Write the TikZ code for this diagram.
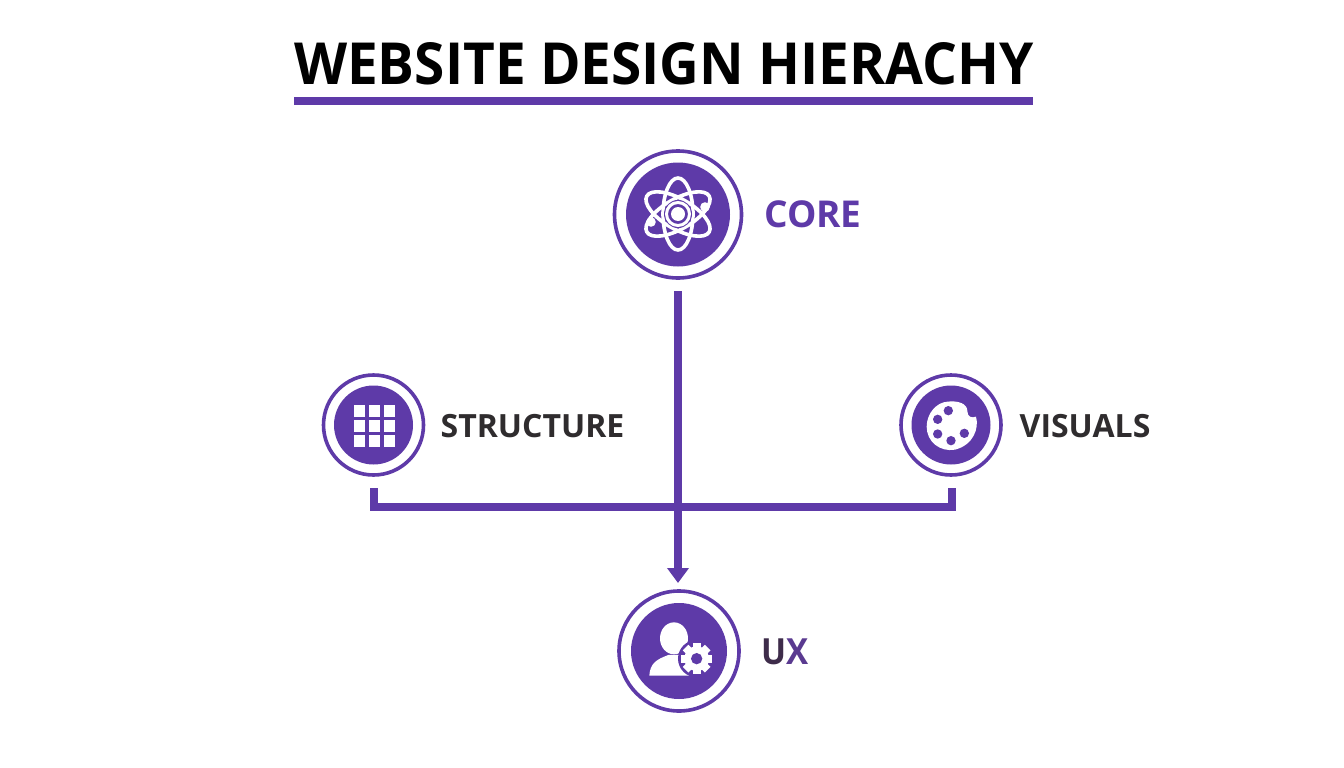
\documentclass[tikz,border=0pt]{standalone}
\usepackage{fontspec}
\setmainfont{Open Sans}
\usetikzlibrary{arrows.meta}
\definecolor{pur}{HTML}{5E3AA8}
\definecolor{ink}{HTML}{2F2C2E}
\tikzset{
  ring/.style={circle,draw=pur,line width=3.6pt,fill=white,inner sep=0pt,outer sep=0pt},
  disc/.style={circle,fill=pur,inner sep=0pt,outer sep=0pt},
  conn/.style={draw=pur,line width=8pt,line join=miter},
  lab/.style={anchor=base west,inner sep=0pt,font=\bfseries\fontsize{37}{37}\selectfont},
  iconline/.style={draw=white,line width=3.6pt}
}
\begin{document}
\begin{tikzpicture}[x=1pt,y=-1pt]
\useasboundingbox (0,0) rectangle (1344,768);
\fill[white] (0,0) rectangle (1344,768);
% title
\node[anchor=base,inner sep=0pt,font=\bfseries\fontsize{58}{58}\selectfont,text=black,xscale=0.947] (title) at (664,84.5) {WEBSITE DESIGN HIERACHY};
\fill[pur] (294,97) rectangle (1033,105);
% rings
\node[ring,minimum size=127pt] (core) at (678,214.5) {};
\node[disc,minimum size=104pt] (coredisc) at (678,214.5) {};
\node[ring,minimum size=100pt] (structure) at (373.5,425) {};
\node[disc,minimum size=79pt] (structuredisc) at (373.5,425) {};
\node[ring,minimum size=100pt] (visuals) at (951,425) {};
\node[disc,minimum size=79pt] (visualsdisc) at (951,425) {};
\node[ring,minimum size=120pt] (ux) at (679,651) {};
\node[disc,minimum size=96pt] (uxdisc) at (679,651) {};
% labels
\node[lab,text=pur] (corelab) at (764,227) {CORE};
\node[lab,text=ink,font=\bfseries\fontsize{32}{32}\selectfont] (structlab) at (440.5,437) {STRUCTURE};
\node[lab,text=ink,font=\bfseries\fontsize{32}{32}\selectfont] (vislab) at (1019.5,437) {VISUALS};
\node[lab,font=\bfseries\fontsize{36}{36}\selectfont,xscale=0.92] (uxlab) at (761,664) {\textcolor[HTML]{3E2C4A}{U}\textcolor[HTML]{5A3A90}{X}};
% connectors
\coordinate (sdrop) at (374,488);
\coordinate (vdrop) at (952,488);
\coordinate (sbend) at (374,507);
\coordinate (vbend) at (952,507);
\path[conn] (sdrop) -- (sbend) -- (vbend) -- (vdrop);
\draw[conn,-{Triangle[width=21pt,length=15pt]},shorten <=13pt,shorten >=8pt] (core.south) -- (core.south |- ux.north);
% atom
\begin{scope}[shift={(678,214)}]
  \foreach \a in {0,60,120}
    \draw[iconline] (0,0) ellipse [x radius=15,y radius=36,rotate=\a];
  \fill[pur] (0,0) circle (14);
  \draw[white,line width=3pt] (0,0) circle (11.5);
  \fill[white] (0,0) circle (7);
  \fill[white] (-27,8) circle (4.8);
  \fill[white] (27,-7) circle (4.8);
\end{scope}
% grid
\begin{scope}[shift={(353.5,405)}]
  \foreach \i in {0,1,2} \foreach \j in {0,1,2}
    \fill[white] (\i*15,\j*15) rectangle ++(11.5,11.5);
\end{scope}
% palette
\begin{scope}[shift={(890,365)},x=0.3333pt,y=-0.3333pt]
  \fill[white] (172,110) .. controls (205,106) and (232,116) .. (232,138)
    .. controls (232,156) and (246,160) .. (258,155)
    .. controls (268,190) and (250,240) .. (195,254)
    .. controls (150,262) and (110,230) .. (110,185)
    .. controls (110,145) and (140,112) .. (172,110) -- cycle;
  \foreach \p in {(175,137),(143,163),(143,207),(183,227),(223,205)}
    \fill[pur] \p circle [radius=14];
\end{scope}
% person and gear
\begin{scope}[shift={(600,560)},x=0.3333pt,y=-0.3333pt]
  \fill[white] (222,235) ellipse [x radius=42,y radius=48];
  \fill[white] (148,347) .. controls (150,310) and (170,298) .. (205,285)
    -- (240,285) .. controls (265,295) and (285,310) .. (295,347) -- cycle;
  \fill[pur] (290,296) circle [radius=56];
  \foreach \a in {0,45,...,315}
    \fill[white,rotate around={\a:(290,296)}] (278,249) rectangle (302,272);
  \fill[white] (290,296) circle [radius=37];
  \fill[pur] (290,296) circle [radius=17];
\end{scope}
\end{tikzpicture}
\end{document}
